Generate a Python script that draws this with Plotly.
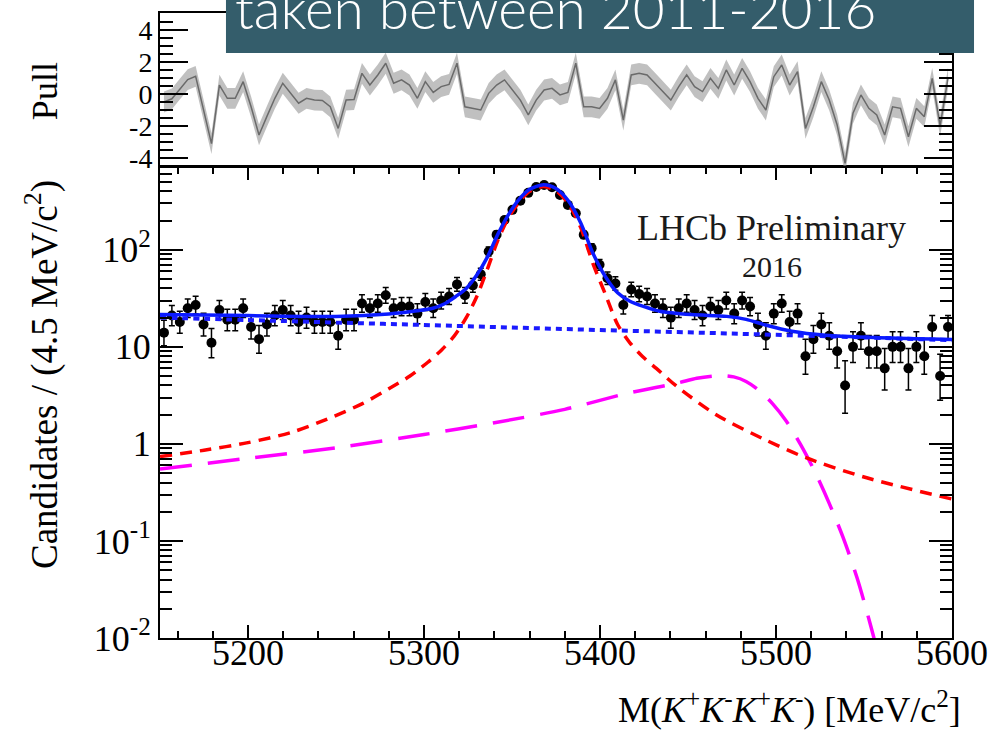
import math
import plotly.graph_objects as go

# ---------------- data ----------------
bin_low = 5150.0
bin_width = 4.5

counts = [14, 21, 18, 25, 27, 17, 11, 24, 19, 19,
          25, 16, 12, 17, 21, 24, 21, 18, 20, 18,
          18, 18, 13, 19, 19, 28, 25, 28, 34, 25,
          26, 26, 22, 29, 25, 30, 33, 44, 34, 43,
          56, 96, 143, 203, 258, 321, 386, 443, 466, 441,
          367, 290, 238, 143, 104, 70, 51, 45, 27, 39,
          35, 33, 28, 25, 20, 25, 28, 24, 21, 26,
          24, 30, 22, 30, 26, 17, 13, 22, 28, 18,
          22, 8, 12, 17, 13, 9, 4, 10, 13, 9,
          9, 6, 10, 10, 6, 10, 8, 16, 5, 16]

pulls = [-0.5, -0.3, 0.3, 0.9, 1.1, -1.0, -3.1, 0.55, -0.27, -0.27,
         0.77, -0.8, -2.56, -1.4, -0.27, 0.67, 0.04, -0.58, -0.27, -0.38,
         -0.4, -0.8, -2.15, -0.38, -0.35, 1.29, 0.56, 1.19, 1.92, 0.67,
         0.88, 0.56, -0.27, 0.77, 0.1, 0.46, 0.6, 1.92, -0.8, -0.9,
         -1.0, 0.04, 0.56, 0.88, 0.25, -0.38, -1.31, -0.38, 0.25, 0.35,
         -0.06, 0.1, 1.92, -0.8, -0.8, -0.9, -0.27, 0.88, -1.63, 1.19,
         1.29, 1.19, 0.67, 0.15, -0.38, 0.46, 1.19, 0.46, 0.15, 0.98,
         0.35, 1.5, 0.56, 1.6, 0.77, -0.27, -1.0, 1.08, 1.81, 0.56,
         1.4, -2.15, -0.8, 0.77, -0.38, -1.94, -4.33, -1.2, -0.06, -0.9,
         -1.31, -2.56, -0.8, -0.9, -2.67, -0.9, -1.42, 0.98, -2.0, 1.0]

# total fit (solid blue)
total_x = [5150, 5200, 5250, 5280, 5296, 5305, 5312, 5318, 5324, 5330, 5336, 5342,
           5348, 5354, 5360, 5368, 5375, 5382, 5389, 5396, 5403, 5410, 5417, 5425,
           5434, 5452, 5472, 5483, 5494, 5509, 5528, 5566, 5600]
total_y = [21.5, 21.0, 20.6, 21.8, 23.5, 25, 28, 33, 40, 55, 84, 145,
           230, 330, 420, 468, 428, 320, 190, 92, 53, 36, 29.5, 26,
           23.3, 21.5, 20.6, 19.2, 16.8, 14.5, 13.2, 12.3, 11.9]

# combinatorial background (dotted blue)
comb_x = [5150, 5200, 5250, 5300, 5350, 5400, 5450, 5500, 5550, 5600]
comb_y = [20.0, 18.9, 17.8, 16.8, 15.8, 14.9, 14.1, 13.3, 12.5, 11.7]

# signal (dashed red)
sig_x = [5150, 5175, 5200, 5225, 5245, 5265, 5280, 5292, 5302, 5310, 5317, 5324,
         5330, 5336, 5342, 5348, 5354, 5360, 5368, 5375, 5382, 5389, 5396, 5403,
         5410, 5417, 5424, 5432, 5443, 5466, 5494, 5517, 5551, 5600]
sig_y = [0.74, 0.86, 1.03, 1.32, 1.80, 2.6, 3.7, 5.0, 6.9, 9.3, 12.8, 20,
         33, 63, 126, 214, 310, 400, 448, 405, 300, 170, 72, 35,
         17, 11, 8.0, 6.0, 4.0, 2.0, 1.1, 0.72, 0.45, 0.27]

# partially reconstructed background (long-dashed magenta)
part_x = [5150, 5200, 5250, 5300, 5340, 5380, 5415, 5443, 5455, 5464, 5470,
          5476, 5483, 5490, 5498, 5506, 5514, 5522, 5530, 5538, 5546, 5554, 5562]
part_y = [0.55, 0.71, 0.91, 1.25, 1.65, 2.27, 3.3, 4.2, 4.75, 5.0, 5.05,
          4.9, 4.4, 3.6, 2.6, 1.7, 0.98, 0.52, 0.25, 0.11, 0.042, 0.013, 0.0035]

x_tick_vals = [5200, 5300, 5400, 5500, 5600]
y_tick_vals = [0.01, 0.1, 1, 10, 100]
y_tick_text = ["10<sup>-2</sup>", "10<sup>-1</sup>", "1", "10", "10<sup>2</sup>"]
pull_tick_vals = [-4, -2, 0, 2, 4]
pull_tick_text = ["-4", "-2", "0", "2", "4"]

# ---------------- derived ----------------
mass = [bin_low + bin_width * (i + 0.5) for i in range(len(counts))]
err_up = [math.sqrt(n + 0.75) + 1.0 for n in counts]
err_dn = [math.sqrt(max(n - 0.25, 0)) for n in counts]
band_half = 0.65
pull_hi = [p + band_half for p in pulls]
pull_lo = [p - band_half for p in pulls]

SERIF = "Liberation Serif"

fig = go.Figure()

# pull panel
fig.add_trace(go.Scatter(x=mass, y=pull_hi, mode="lines", line=dict(width=0),
                         xaxis="x2", yaxis="y2", showlegend=False, hoverinfo="skip"))
fig.add_trace(go.Scatter(x=mass, y=pull_lo, mode="lines", line=dict(width=0),
                         fill="tonexty", fillcolor="rgba(150,150,150,0.6)",
                         xaxis="x2", yaxis="y2", showlegend=False, hoverinfo="skip"))
fig.add_trace(go.Scatter(x=mass, y=pulls, mode="lines",
                         line=dict(color="#6a6a6a", width=1.5),
                         xaxis="x2", yaxis="y2", showlegend=False))

# data
fig.add_trace(go.Scatter(
    x=mass, y=counts, mode="markers",
    marker=dict(color="black", size=10),
    error_y=dict(type="data", symmetric=False, array=err_up, arrayminus=err_dn,
                 color="black", thickness=1.5, width=3),
    showlegend=False))

# fit components
fig.add_trace(go.Scatter(x=comb_x, y=comb_y, mode="lines",
                         line=dict(color="#1a1aff", width=4, dash="6px,5px", shape="spline"),
                         showlegend=False))
fig.add_trace(go.Scatter(x=part_x, y=part_y, mode="lines",
                         line=dict(color="#ff00ff", width=3.5, dash="32px,16px",
                                   shape="spline", smoothing=0.8),
                         showlegend=False))
fig.add_trace(go.Scatter(x=sig_x, y=sig_y, mode="lines",
                         line=dict(color="#ff0000", width=3.5, dash="12px,8px",
                                   shape="spline", smoothing=0.8),
                         showlegend=False))
fig.add_trace(go.Scatter(x=total_x, y=total_y, mode="lines",
                         line=dict(color="#0a1aff", width=3.5, shape="spline", smoothing=0.8),
                         showlegend=False))

minor_log = [m * 10 ** e for e in range(-2, 3) for m in range(2, 10)]

axis_common = dict(showline=True, linecolor="black", linewidth=2, showgrid=False,
                   zeroline=False, ticks="inside", tickcolor="black", tickwidth=2,
                   automargin=False)

fig.update_layout(
    width=1004, height=732,
    margin=dict(l=160, r=52, t=13, b=94),
    paper_bgcolor="white", plot_bgcolor="white",
    font=dict(family=SERIF, color="black"),
    xaxis=dict(axis_common, domain=[0, 1], anchor="y", range=[5150, 5600],
               mirror="allticks", tickmode="array", tickvals=x_tick_vals,
               ticktext=[str(v) for v in x_tick_vals], ticklen=13,
               ticklabelstandoff=-18,
               tickfont=dict(family=SERIF, size=36),
               minor=dict(ticks="inside", dtick=20, tick0=5160, ticklen=7,
                          tickwidth=2, tickcolor="black")),
    yaxis=dict(axis_common, domain=[0, 0.7536], anchor="x", type="log",
               range=[-2, 2.853], mirror="allticks", tickmode="array",
               tickvals=y_tick_vals, ticktext=y_tick_text, ticklen=23,
               tickfont=dict(family=SERIF, size=36),
               minor=dict(ticks="inside", tickmode="array", tickvals=minor_log,
                          ticklen=12, tickwidth=2, tickcolor="black")),
    xaxis2=dict(axis_common, domain=[0, 1], anchor="y2", range=[5150, 5600],
                matches="x", mirror=True, ticks="", showticklabels=False),
    yaxis2=dict(axis_common, domain=[0.7552, 1], anchor="x2", range=[-4.5, 5.06],
                mirror="allticks", tickmode="array", tickvals=pull_tick_vals,
                ticktext=pull_tick_text, ticklen=28,
                tickfont=dict(family=SERIF, size=28),
                minor=dict(ticks="inside", dtick=0.5, tick0=0, ticklen=13,
                           tickwidth=2, tickcolor="black")),
    shapes=[dict(type="rect", xref="paper", yref="paper",
                 x0=0.0833, x1=1.0278, y0=0.936, y1=1.03,
                 fillcolor="#345d6b", line=dict(width=0), layer="above")],
    annotations=[
        dict(text="Candidates / (4.5 MeV/c<sup>2</sup>)", xref="paper", yref="paper",
             x=-0.149, y=0.4224, xanchor="center", yanchor="middle", textangle=-90,
             showarrow=False, font=dict(family=SERIF, size=37)),
        dict(text="Pull", xref="paper", yref="paper",
             x=-0.1452, y=0.875, xanchor="center", yanchor="middle", textangle=-90,
             showarrow=False, font=dict(family=SERIF, size=36)),
        dict(text="M(<i>K</i><sup>+</sup><i>K</i><sup>-</sup><i>K</i><sup>+</sup><i>K</i><sup>-</sup>) [MeV/c<sup>2</sup>]",
             xref="paper", yref="paper", x=1.0139, y=-0.1504,
             xanchor="right", yanchor="bottom", showarrow=False,
             font=dict(family=SERIF, size=36)),
        dict(text="LHCb Preliminary", xref="paper", yref="paper", x=0.7715, y=0.656,
             xanchor="center", yanchor="middle", showarrow=False,
             font=dict(family=SERIF, size=36, color="#1a1a1a")),
        dict(text="2016", xref="paper", yref="paper", x=0.7727, y=0.5952,
             xanchor="center", yanchor="middle", showarrow=False,
             font=dict(family=SERIF, size=30, color="#1a1a1a")),
        dict(text="taken between 2011-2016", xref="paper", yref="paper",
             x=(233 - 160) / 792, y=(638 - 8) / 625, xanchor="left", yanchor="middle",
             showarrow=False, font=dict(family="Lato", size=55, color="white", weight=300)),
    ],
)

fig.write_html("out.html", config={"displayModeBar": False},
               post_script="document.body.style.margin='0px';")
